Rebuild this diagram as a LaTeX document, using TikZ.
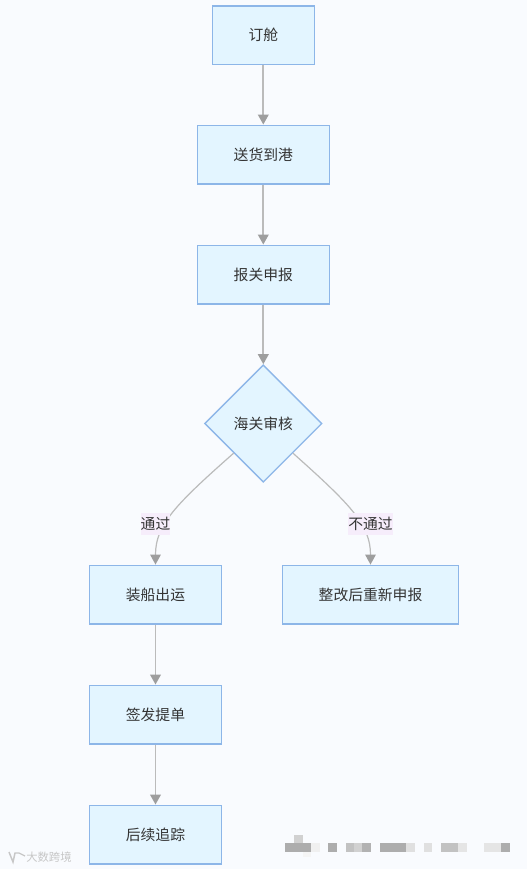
\documentclass[tikz,border=0pt]{standalone}
\usepackage{fontspec}
\setmainfont{Noto Sans CJK SC}
\usetikzlibrary{shapes.geometric,arrows.meta}
\definecolor{bgc}{HTML}{F9FBFE}
\definecolor{nodefill}{HTML}{E3F5FF}
\definecolor{nodeline}{HTML}{8DB6E8}
\definecolor{edgec}{HTML}{BBBBBB}
\definecolor{tipc}{HTML}{9E9E9E}
\definecolor{txt}{HTML}{333333}
\definecolor{labbg}{HTML}{F6EDFB}
\tikzset{
  x=0.75pt,y=-0.75pt,
  boxn/.style={draw=nodeline,fill=nodefill,line width=1.1pt,text=txt,font=\fontsize{11.1pt}{13pt}\selectfont,inner sep=0pt,anchor=center,minimum height=44pt},
  diam/.style={diamond,draw=nodeline,fill=nodefill,line width=1pt,text=txt,font=\fontsize{11.1pt}{13pt}\selectfont,inner sep=0pt,minimum width=88pt,minimum height=88pt},
  edge/.style={draw=edgec,line width=1.3pt,-{Triangle[length=7.5pt,width=8pt,color=tipc]}},
  thin edge/.style={edge,line width=0.9pt},
  lab/.style={fill=labbg,text=txt,font=\fontsize{11.1pt}{13pt}\selectfont,inner sep=0pt,minimum height=16.5pt},
  mosaic/.style={line width=0pt}
}
\begin{document}
\begin{tikzpicture}
\useasboundingbox (0,0) rectangle (527,869);
\fill[bgc] (0,0) rectangle (527,869);
\node[boxn,minimum width=76.5pt] (a) at (263.3,35.3) {订舱};
\node[boxn,minimum width=99pt] (b) at (263.3,154.6) {送货到港};
\node[boxn,minimum width=99pt] (c) at (263.3,274.6) {报关申报};
\node[diam] (d) at (263.3,423.5) {海关审核};
\node[boxn,minimum width=99pt] (e) at (155.5,594.6) {装船出运};
\node[boxn,minimum width=132pt] (f) at (370.5,594.6) {整改后重新申报};
\node[boxn,minimum width=99pt] (g) at (155.5,714.6) {签发提单};
\node[boxn,minimum width=99pt] (h) at (155.5,834.6) {后续追踪};
\draw[edge] (a) -- (b);
\draw[edge] (b) -- (c);
\draw[edge] (c) -- (d);
\draw[edge] (e) -- (g);
\draw[edge] (g) -- (h);
\draw[thin edge] (d.south west) .. controls (175,505) and (155.5,525) .. (e.north);
\draw[thin edge] (d.south east) .. controls (351,505) and (370.5,525) .. (f.north);
\node[lab,minimum width=21.75pt] (l1) at (155.5,524) {通过};
\node[lab,minimum width=33pt] (l2) at (370.5,524) {不通过};
% pixelated patch and faint mark, bottom of the picture
\foreach \xa/\ya/\xb/\yb/\g in {
 285/843/311/852/68, 294/835/302.5/843/82, 302.5/852/311/857/96, 311/843/319.5/852/94,
 328/843/337/852/68, 346/843/354/852/76, 354/843/362/852/82, 362/843/371/852/70,
 380/843/406/852/68, 406/843/415/852/88, 423.5/843/432/852/88,
 441/843/458/852/76, 458/843/467/852/90, 484/843/501/852/90, 501/843/510/852/68}
 { \fill[white!\g!black,mosaic] (\xa,\ya) rectangle (\xb,\yb); }
\node[text=black!22,font=\fontsize{8.5pt}{10pt}\selectfont,inner sep=0pt] (wm) at (49,857) {大数跨境};
\coordinate (w1) at (9,852);
\coordinate (w2) at (13,862);
\coordinate (w3) at (19,853);
\coordinate (w4) at (25,856);
\draw[black!22,line width=1.1pt] (w1) -- (w2) -- (15,853) -- (w3);
\draw[black!22,line width=0.9pt] (w3) -- (w4);
\end{tikzpicture}
\end{document}
